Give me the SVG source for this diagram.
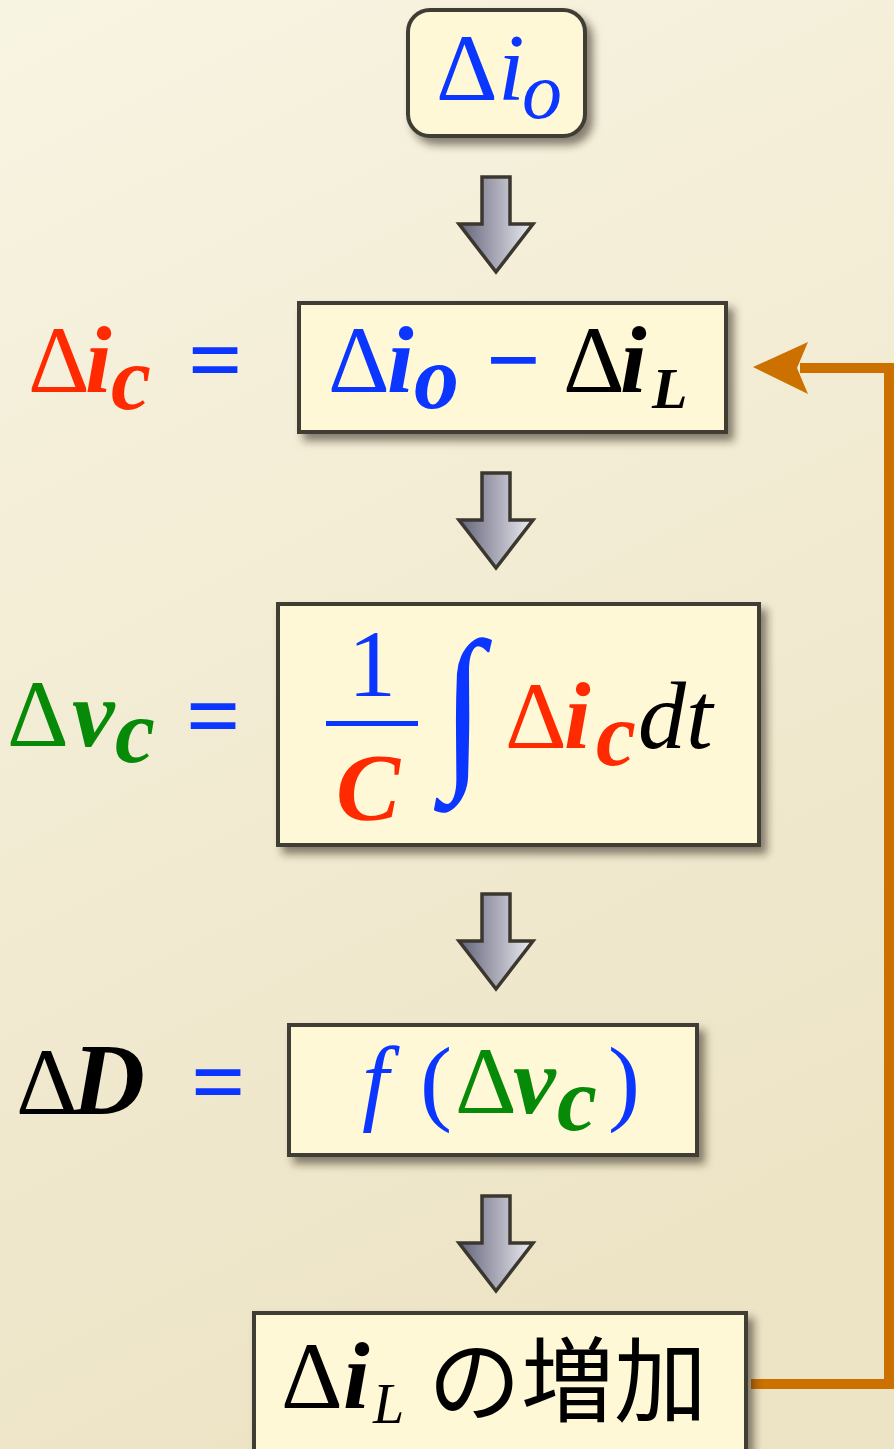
<svg xmlns="http://www.w3.org/2000/svg" width="894" height="1449" viewBox="0 0 894 1449">
<defs>
<linearGradient id="bg" x1="0" y1="0" x2="0.3" y2="1">
<stop offset="0" stop-color="#F8F4E2"/>
<stop offset="1" stop-color="#EDE4C6"/>
</linearGradient>
<linearGradient id="arrowFill" x1="0" y1="0" x2="1" y2="0">
<stop offset="0" stop-color="#62627A"/>
<stop offset="1" stop-color="#EDEDF2"/>
</linearGradient>
<filter id="shadow" x="-10%" y="-10%" width="130%" height="130%">
<feDropShadow dx="6" dy="7" stdDeviation="4" flood-color="#2a2418" flood-opacity="0.55"/>
</filter>
<path id="downArrow" d="M -14 0 L 14 0 L 14 47 L 37 47 L 0 95 L -37 47 L -14 47 Z" fill="url(#arrowFill)" stroke="#3B372E" stroke-width="3.5" stroke-linejoin="miter"/>
<style>
.box{fill:#FEF8D6;stroke:#403C34;stroke-width:4;filter:url(#shadow);}
.m{font-family:"Liberation Serif","Times New Roman",serif;font-size:96px;}
.bi{font-weight:bold;font-style:italic;}
.it{font-style:italic;}
.b{font-weight:bold;}
.red{fill:#FF2A00;}
.blue{fill:#0A36FF;}
.green{fill:#078A07;}
.black{fill:#000;}
.jp{font-family:"Noto Sans CJK JP","Noto Sans CJK SC",sans-serif;font-size:93px;fill:#000;}
</style>
</defs>
<rect x="0" y="0" width="894" height="1449" fill="url(#bg)"/>

<g id="connectors">
<use href="#downArrow" x="496" y="177"/>
<use href="#downArrow" x="496" y="473"/>
<use href="#downArrow" x="496" y="894"/>
<use href="#downArrow" x="496" y="1196"/>
<polyline points="751,1384 889,1384 889,368 800,368" fill="none" stroke="#CC7000" stroke-width="10"/>
<polygon points="753,367 808,342 797,368 808,394" fill="#CC7000"/>
</g>

<g id="node-io">
<rect class="box" x="408" y="10" width="177" height="126" rx="22" ry="22"/>
<text class="m blue" y="100"><tspan x="436">Δ</tspan><tspan class="it" x="498">i</tspan><tspan class="it" x="522" y="118" font-size="80">o</tspan></text>
</g>

<g id="label-ic">
<text class="m red" y="392"><tspan x="28">Δ</tspan><tspan class="bi" x="85">i</tspan><tspan class="bi" x="111" y="409" font-size="90">c</tspan></text>
<text class="m blue b" x="188" y="392">=</text>
</g>

<g id="node-ic">
<rect class="box" x="299" y="303" width="427" height="129"/>
<text class="m" y="392"><tspan class="blue" x="328">Δ</tspan><tspan class="blue bi" x="387">i</tspan><tspan class="blue bi" x="414" y="408" font-size="90">o</tspan><tspan class="blue b" x="486" y="392">−</tspan><tspan class="black" x="563">Δ</tspan><tspan class="black bi" x="620">i</tspan><tspan class="black bi" x="652" y="408" font-size="58">L</tspan></text>
</g>

<g id="label-vc">
<text class="m green" y="746"><tspan x="7">Δ</tspan><tspan class="bi" x="72">v</tspan><tspan class="bi" x="115" y="762" font-size="90">c</tspan></text>
<text class="m blue b" x="186" y="748">=</text>
</g>

<g id="node-vc">
<rect class="box" x="278" y="604" width="481" height="241"/>
<text class="m blue" x="372" y="696" text-anchor="middle" font-size="90">1</text>
<rect x="326" y="721" width="92" height="5" fill="#0A36FF"/>
<text class="m red bi" x="368" y="820" text-anchor="middle" font-size="98">C</text>
<text class="m blue" font-size="190" transform="translate(442,765) scale(1.6,1.86)">∫</text>
<text class="m" y="748"><tspan class="red" x="505">Δ</tspan><tspan class="red bi" x="564">i</tspan><tspan class="red bi" x="596" y="765" font-size="90">c</tspan><tspan class="black it" x="638" y="748">dt</tspan></text>
</g>

<g id="label-D">
<text class="m black" y="1114"><tspan x="16">Δ</tspan><tspan class="bi" x="72" font-size="101">D</tspan></text>
<text class="m blue b" x="191" y="1114">=</text>
</g>

<g id="node-D">
<rect class="box" x="289" y="1025" width="408" height="130"/>
<text class="m" y="1113"><tspan class="blue it" x="362">f</tspan><tspan class="blue" x="420">(</tspan><tspan class="green" x="455">Δ</tspan><tspan class="green bi" x="513">v</tspan><tspan class="green bi" x="557" y="1130" font-size="90">c</tspan><tspan class="blue" x="608" y="1113">)</tspan></text>
</g>

<g id="node-iL">
<rect class="box" x="254" y="1313" width="492" height="150"/>
<text class="m black" y="1408" font-size="100"><tspan x="281">Δ</tspan><tspan class="bi" x="343">i</tspan><tspan class="it" x="373" y="1423" font-size="56">L</tspan></text>
<text class="jp" x="428" y="1415">の増加</text>
</g>
</svg>
